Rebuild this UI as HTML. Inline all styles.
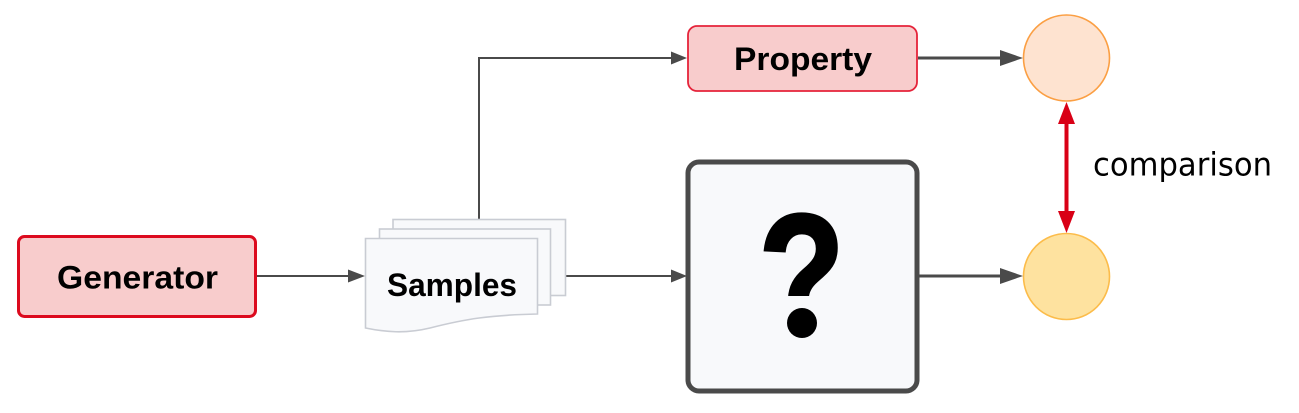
<!DOCTYPE html>
<html>
<head>
<meta charset="utf-8">
<style>
html,body{margin:0;padding:0;background:#fff;width:1299px;height:413px;overflow:hidden}
svg{display:block}
text{font-family:"Liberation Sans",sans-serif;font-weight:700;fill:#000}
</style>
</head>
<body>
<svg width="1299" height="413" viewBox="0 0 1299 413" xmlns="http://www.w3.org/2000/svg">
<!-- connectors -->
<g fill="none" stroke="#4a4a4a">
<path d="M257 276H350" stroke-width="2"/>
<path d="M479 219V58H673" stroke-width="2"/>
<path d="M566 276H673" stroke-width="2"/>
<path d="M918 58H1002" stroke-width="3"/>
<path d="M918 276H1002" stroke-width="3"/>
</g>
<g fill="#4a4a4a">
<polygon points="348,269.500 365,276 348,282.500"/>
<polygon points="671,51.500 687,58 671,64.500"/>
<polygon points="671,269.500 687,276 671,282.500"/>
<polygon points="1000,50 1023,58 1000,66"/>
<polygon points="1000,268 1023,276 1000,284"/>
</g>
<!-- generator -->
<rect x="18.500" y="236.500" width="237" height="80" rx="6" fill="#f8cccc" stroke="#dc0a1e" stroke-width="3"/>
<text x="57" y="288.500" font-size="32" textLength="161" lengthAdjust="spacingAndGlyphs">Generator</text>
<!-- samples -->
<g fill="#f8f9fb" stroke="#c9ccd3" stroke-width="1.600">
<rect x="393" y="219.500" width="172.500" height="76"/>
<rect x="379.500" y="229" width="171" height="76"/>
<path d="M365.500 238.500H537.500V314C490 315 465 319 430 328C405 334 385 332 365.500 328Z"/>
</g>
<text x="387" y="296" font-size="32" textLength="130" lengthAdjust="spacingAndGlyphs">Samples</text>
<!-- property -->
<rect x="688" y="26" width="229" height="65" rx="9" fill="#f8cccc" stroke="#e5233a" stroke-width="1.800"/>
<text x="734" y="70" font-size="32" textLength="138" lengthAdjust="spacingAndGlyphs">Property</text>
<!-- question box -->
<rect x="688" y="162" width="229" height="229" rx="11" fill="#f8f9fb" stroke="#4a4a4a" stroke-width="5"/>
<text x="0" y="0" font-size="172" stroke="#000" stroke-width="3" transform="translate(758.500 334) scale(0.82 1)">?</text>
<rect x="770" y="296" width="64" height="46" fill="#f8f9fb"/>
<circle cx="802" cy="323" r="15" fill="#000"/>
<!-- circles -->
<circle cx="1066.500" cy="58" r="43" fill="#fee3d0" stroke="#fb9f43" stroke-width="1.600"/>
<circle cx="1066.500" cy="276.500" r="43" fill="#fee29f" stroke="#fcbc4a" stroke-width="1.600"/>
<!-- red arrow -->
<path d="M1066.500 120V215" stroke="#d90016" stroke-width="4" fill="none"/>
<polygon points="1066.500,102 1075,124 1058,124" fill="#d90016"/>
<polygon points="1066.500,233 1075,211 1058,211" fill="#d90016"/>
<text x="1093" y="175.500" font-size="32" textLength="179" lengthAdjust="spacingAndGlyphs" style="font-family:'DejaVu Sans',sans-serif;font-weight:400">comparison</text>
</svg>
</body>
</html>
